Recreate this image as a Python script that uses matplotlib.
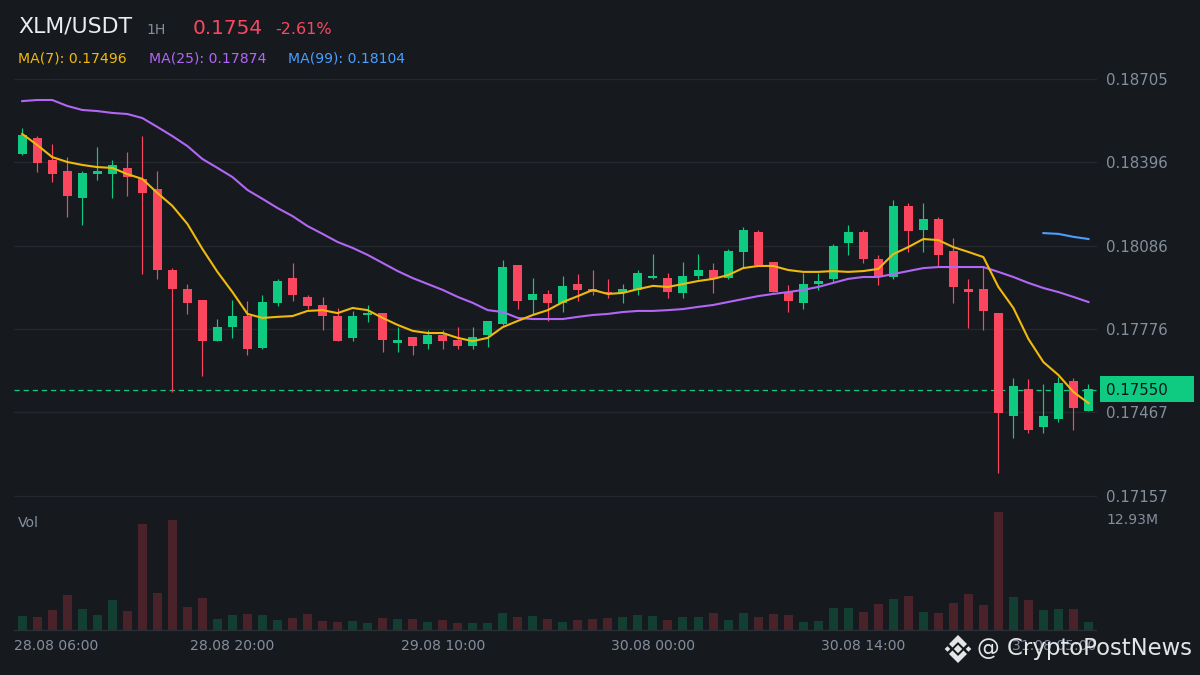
import matplotlib
matplotlib.use("Agg")
import matplotlib.pyplot as plt
from matplotlib.patches import Rectangle, Polygon

# ---- data (prices in USDT) ----
body_top = [0.18497,0.18486,0.18404,0.18363,0.18356,0.18363,0.18386,0.18375,0.18334,0.18297,0.17996,0.17925,
            0.17885,0.17784,0.17825,0.17825,0.17877,0.17955,0.17966,0.17896,0.17866,0.17825,0.17825,0.17836,
            0.17836,0.17736,0.17747,0.17755,0.17755,0.17736,0.17747,0.17807,0.18007,0.18015,0.17907,0.17907,
            0.17937,0.17944,0.17925,0.17914,0.17925,0.17985,0.17974,0.17966,0.17974,0.17996,0.17996,0.18066,
            0.18144,0.18137,0.18026,0.17914,0.17944,0.17955,0.18085,0.18137,0.18137,0.18037,0.18234,0.18234,
            0.18185,0.18185,0.18066,0.17925,0.17925,0.17836,0.17565,0.17554,0.17454,0.17577,0.17584,0.17554]
body_bot = [0.18427,0.18393,0.18352,0.18271,0.18263,0.18352,0.18352,0.18341,0.18282,0.17996,0.17925,0.17873,
            0.17732,0.17732,0.17784,0.17703,0.17706,0.17874,0.17903,0.17862,0.17825,0.17732,0.17743,0.17829,
            0.17736,0.17725,0.17714,0.17721,0.17732,0.17714,0.17714,0.17755,0.17795,0.17881,0.17885,0.17874,
            0.17874,0.17922,0.17914,0.17907,0.17911,0.17922,0.17966,0.17914,0.17911,0.17974,0.17963,0.17966,
            0.18063,0.18015,0.17914,0.17881,0.17874,0.17944,0.17963,0.18096,0.18037,0.17974,0.17970,0.18141,
            0.18144,0.18052,0.17933,0.17914,0.17844,0.17465,0.17454,0.17402,0.17413,0.17443,0.17484,0.17473]
highs = [0.18523,0.18493,0.18464,0.18415,0.18363,0.18453,0.18404,0.18434,0.18493,0.18363,0.18003,0.17944,
         0.17885,0.17814,0.17885,0.17881,0.17903,0.17963,0.18022,0.17903,0.17896,0.17855,0.17844,0.17866,
         0.17836,0.17784,0.17747,0.17773,0.17773,0.17784,0.17784,0.17807,0.18033,0.18015,0.17966,0.17922,
         0.17974,0.17981,0.17996,0.17963,0.17944,0.17996,0.18055,0.17985,0.18026,0.18055,0.18022,0.18074,
         0.18156,0.18144,0.18026,0.17940,0.17985,0.17985,0.18093,0.18163,0.18144,0.18052,0.18256,0.18245,
         0.18245,0.18193,0.18115,0.17963,0.18007,0.17836,0.17595,0.17591,0.17573,0.17599,0.17595,0.17573]
lows = [0.18423,0.18360,0.18323,0.18193,0.18163,0.18330,0.18263,0.18271,0.17981,0.17963,0.17543,0.17833,
        0.17603,0.17732,0.17743,0.17680,0.17703,0.17862,0.17881,0.17851,0.17773,0.17732,0.17732,0.17803,
        0.17692,0.17692,0.17680,0.17703,0.17703,0.17703,0.17703,0.17710,0.17792,0.17851,0.17829,0.17807,
        0.17840,0.17881,0.17903,0.17892,0.17874,0.17903,0.17963,0.17892,0.17892,0.17963,0.17911,0.17963,
        0.18003,0.18015,0.17914,0.17840,0.17851,0.17922,0.17951,0.18052,0.18022,0.17940,0.17963,0.18063,
        0.18063,0.18007,0.17874,0.17781,0.17773,0.17242,0.17372,0.17391,0.17391,0.17432,0.17402,0.17473]
is_up = [1,0,0,0,1,1,1,0,0,0,0,0,0,1,1,0,1,1,0,0,0,0,1,1,0,1,0,1,0,0,1,1,1,0,1,0,
         1,0,0,0,1,1,1,0,1,1,0,1,1,0,0,0,1,1,1,1,0,0,1,0,1,0,0,0,0,0,1,0,1,1,0,1]
volume_m = [1.57,1.46,2.22,3.86,2.33,1.68,3.31,2.11,11.62,4.08,11.95,2.55,3.53,1.24,1.68,1.78,1.68,1.13,
            1.35,1.78,1.02,0.91,1.02,0.80,1.35,1.24,1.24,0.91,1.13,0.80,0.80,0.80,1.89,1.46,1.57,1.24,
            0.91,1.13,1.24,1.35,1.46,1.68,1.57,1.13,1.46,1.46,1.89,1.13,1.89,1.46,1.78,1.68,0.91,1.02,
            2.44,2.44,2.00,2.88,3.42,3.75,2.00,1.89,2.99,3.97,2.77,12.93,3.64,3.31,2.22,2.33,2.33,0.91]
ma7 = [0.18501,0.18460,0.18415,0.18397,0.18386,0.18378,0.18375,0.18352,0.18334,0.18282,0.18234,0.18167,
       0.18074,0.17989,0.17914,0.17833,0.17818,0.17822,0.17825,0.17844,0.17847,0.17836,0.17855,0.17847,
       0.17818,0.17792,0.17770,0.17762,0.17762,0.17744,0.17732,0.17744,0.17784,0.17807,0.17829,0.17847,
       0.17877,0.17899,0.17922,0.17907,0.17911,0.17925,0.17937,0.17933,0.17944,0.17955,0.17963,0.17977,
       0.18003,0.18011,0.18011,0.17996,0.17989,0.17989,0.17992,0.17989,0.17992,0.18000,0.18055,0.18081,
       0.18111,0.18107,0.18081,0.18063,0.18044,0.17933,0.17855,0.17740,0.17654,0.17606,0.17543,0.17502]
ma25 = [0.18623,0.18627,0.18627,0.18605,0.18590,0.18586,0.18579,0.18575,0.18560,0.18527,0.18493,0.18456,
        0.18408,0.18375,0.18341,0.18293,0.18260,0.18226,0.18196,0.18159,0.18130,0.18100,0.18078,0.18052,
        0.18022,0.17992,0.17966,0.17944,0.17922,0.17896,0.17874,0.17847,0.17840,0.17818,0.17814,0.17814,
        0.17814,0.17822,0.17829,0.17833,0.17840,0.17844,0.17844,0.17847,0.17851,0.17859,0.17866,0.17877,
        0.17888,0.17899,0.17907,0.17914,0.17922,0.17933,0.17948,0.17963,0.17970,0.17970,0.17981,0.17992,
        0.18003,0.18007,0.18007,0.18007,0.18007,0.17989,0.17970,0.17948,0.17929,0.17914,0.17896,0.17877]
ma99_start = 68
ma99 = [0.18133,0.18130,0.18119,0.18111]
price_ticks = [0.18705,0.18396,0.18086,0.17776,0.17467,0.17157]
last_price = 0.17550
time_labels = ["28.08 06:00","28.08 20:00","29.08 10:00","30.08 00:00","30.08 14:00","31.08 05:00"]
time_index = [0,14,28,42,56,71]

# ---- styling ----
W, H = 1200, 675
BG = "#161A1F"; GRID = "#24282E"; GREY = "#848E9C"
UP = "#0ECB81"; DOWN = "#FB4660"
UP_V = "#123F31"; DOWN_V = "#4A222A"
GOLD = "#F0B90B"; PURPLE = "#B266F5"; BLUE = "#4A9EFF"
plt.rcParams["font.family"] = ["DejaVu Sans"]

fig = plt.figure(figsize=(W/100, H/100), dpi=100, facecolor=BG)

def axes_px(l, t, r, b):
    return fig.add_axes([l/W, 1-b/H, (r-l)/W, (b-t)/H], facecolor="none")

def txt(x, y, s, **kw):
    kw.setdefault("va", "center"); kw.setdefault("ha", "left")
    return fig.text(x/W, 1-y/H, s, **kw)

X_L, X_R = 14, 1096
x0 = 22.2
step = 15.018
xlim = ((X_L-x0)/step, (X_R-x0)/step)
xs = list(range(len(body_top)))
cols = [UP if u else DOWN for u in is_up]

ax = axes_px(X_L, 79, X_R, 496)
ax.set_xlim(*xlim)
ax.set_ylim(price_ticks[-1], price_ticks[0])
for s in ax.spines.values():
    s.set_visible(False)
ax.set_xticks([])
ax.yaxis.tick_right()
ax.set_yticks(price_ticks)
ax.set_yticklabels([f"{p:.5f}" for p in price_ticks], color=GREY, fontsize=10.8)
ax.tick_params(axis="y", length=0, pad=7.2)
ax.grid(axis="y", color=GRID, lw=1, zorder=0, clip_on=False)
ax.set_axisbelow(True)
for gl in ax.get_ygridlines():
    gl.set_clip_on(False)

ax.plot([xlim[0], xlim[1]+0.27], [last_price, last_price], color=UP, lw=0.9,
        dashes=(4.2, 3.1), zorder=1, clip_on=False)
ax.vlines(xs, lows, highs, colors=cols, lw=0.85, zorder=2)
ax.bar(xs, [t-b for t, b in zip(body_top, body_bot)], bottom=body_bot,
       width=9/step, color=cols, lw=0, zorder=3)
ax.plot(xs, ma25, color=PURPLE, lw=1.5, zorder=4, solid_joinstyle="round")
ax.plot(xs, ma7, color=GOLD, lw=1.5, zorder=5, solid_joinstyle="round")
ax.plot(xs[ma99_start:], ma99, color=BLUE, lw=1.5, zorder=5)

# last price tag
fig.add_artist(Rectangle((1100/W, 1-402/H), 94/W, 26/H, transform=fig.transFigure,
                         facecolor=UP, edgecolor="none"))
txt(1106, 390.5, f"{last_price:.5f}", color="#10151A", fontsize=10.8)

# volume pane
vax = axes_px(X_L, 510, X_R, 630)
vax.set_xlim(*xlim)
vax.set_ylim(0, max(volume_m)*120/118.5)
for k, s in vax.spines.items():
    s.set_visible(k == "bottom")
    s.set_color("#2A2E35"); s.set_linewidth(1)
vax.set_yticks([])
vax.bar(xs, volume_m, width=9/step, lw=0, color=[UP_V if u else DOWN_V for u in is_up], zorder=2)
vax.set_xticks([time_index[i] for i in range(1, 5)])
vax.set_xticklabels(time_labels[1:5], color=GREY, fontsize=10.1)
vax.tick_params(axis="x", length=0, pad=6.8)
txt(14, 646.5, time_labels[0], color=GREY, fontsize=10.1)
txt(1096, 646.5, time_labels[-1], color=GREY, fontsize=10.1, ha="right")
txt(18, 523, "Vol", color=GREY, fontsize=10.1)
txt(1106, 520, "12.93M", color=GREY, fontsize=10.1)

# header
txt(18, 27, "XLM/USDT", color="#EAECEF", fontsize=15.8)
txt(146, 29.5, "1H", color=GREY, fontsize=10.1)
txt(193, 28, "0.1754", color=DOWN, fontsize=14.4)
txt(275, 29, "-2.61%", color=DOWN, fontsize=11.5)
txt(18, 58, "MA(7): 0.17496", color=GOLD, fontsize=10.05)
txt(149, 58, "MA(25): 0.17874", color=PURPLE, fontsize=10.05)
txt(288, 58, "MA(99): 0.18104", color=BLUE, fontsize=10.05)

# watermark
WM = "#E4E5E7"
txt(977, 649, "@ CryptoPostNews", color=WM, fontsize=16.35)
def diamond(cx, cy, r):
    fig.add_artist(Polygon([((cx-r)/W, 1-cy/H), (cx/W, 1-(cy-r)/H), ((cx+r)/W, 1-cy/H), (cx/W, 1-(cy+r)/H)],
                           closed=True, transform=fig.transFigure, facecolor=WM, edgecolor="none"))
for cx, r in [(958, 4.2), (947.5, 2.8), (968.5, 2.8)]:
    diamond(cx, 649, r)
for p in [[(958,635),(967,644),(963.5,647.5),(958,642),(952.5,647.5),(949,644)],
          [(958,663),(967,654),(963.5,650.5),(958,656),(952.5,650.5),(949,654)]]:
    fig.add_artist(Polygon([(a/W, 1-b/H) for a, b in p], closed=True, transform=fig.transFigure,
                           facecolor=WM, edgecolor="none"))

fig.savefig("out.png", dpi=100, facecolor=BG)
